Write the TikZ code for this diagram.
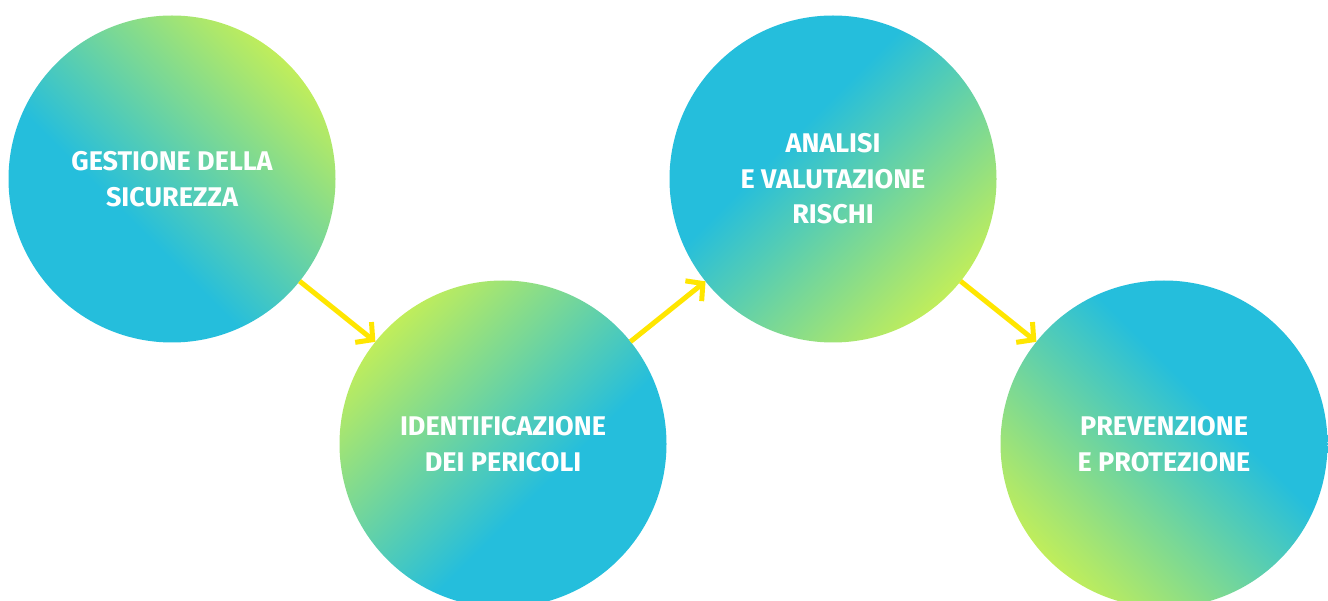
\documentclass[tikz,border=0pt]{standalone}
\usepackage{fontspec}
\setmainfont{Fira Sans}
\usetikzlibrary{arrows.meta}

\definecolor{cyanball}{RGB}{37,190,220}
\definecolor{limeball}{RGB}{210,243,76}
\definecolor{arrowyellow}{RGB}{255,230,0}

\pgfdeclareverticalshading{ballfade}{100bp}{color(0bp)=(cyanball); color(41bp)=(cyanball); color(79bp)=(limeball); color(100bp)=(limeball)}

\begin{document}
\begin{tikzpicture}[x=1pt,y=1pt,
    ball/.style={circle, minimum size=327pt, inner sep=0pt, outer sep=0pt,
        shading=ballfade, text=white, align=center,
        font=\bfseries\fontsize{27}{35.5}\selectfont},
    flow/.style={draw=arrowyellow, line width=5pt,
        -{Straight Barb[length=12pt, width=26pt, line cap=butt]}},
    ]

    \useasboundingbox (0,0) rectangle (1328,600);

    \node[ball, shading angle=-45] (gestione) at (172,421) {GESTIONE DELLA\\SICUREZZA};
    \node[ball, shading angle=45] (pericoli) at (503,156) {IDENTIFICAZIONE\\DEI PERICOLI};
    \node[ball, shading angle=-135] (analisi) at (833,421) {ANALISI\\E VALUTAZIONE\\RISCHI};
    \node[ball, shading angle=135] (prevenzione) at (1164,156) {PREVENZIONE\\E PROTEZIONE};

    \draw[flow] (gestione) -- (pericoli);
    \draw[flow] (pericoli) -- (analisi);
    \draw[flow] (analisi) -- (prevenzione);

\end{tikzpicture}
\end{document}
